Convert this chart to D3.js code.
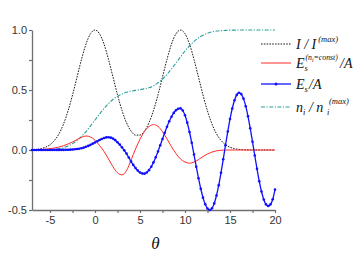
<!DOCTYPE html>
<html><head><meta charset="utf-8">
<script src="https://cdn.jsdelivr.net/npm/d3@7"></script>
<style>
html,body{margin:0;padding:0;background:#fff;}
svg{display:block;}
.tick text{font-family:"Liberation Sans",Arial,sans-serif;font-size:11px;fill:#333;}
</style></head>
<body>
<svg id="c" width="357" height="253"></svg>
<script>
// ---- data ----
const thetaCoarse = d3.range(-7, 20.001, 0.5);   // sample positions for I, n_i, E_s(const)
const thetaFine = d3.range(-7, 20.001, 0.25);    // sample positions for E_s/A

const intensity = [0.002,0.005,0.011,0.023,0.044,0.080,0.135,0.216,0.325,0.458,0.607,0.755,0.883,0.969,
  1.0,0.969,0.883,0.755,0.608,0.460,0.330,0.227,0.158,0.124,0.124,0.158,0.227,0.330,0.460,0.608,0.755,0.883,0.969,1.0,
  0.969,0.883,0.755,0.607,0.458,0.325,0.216,0.135,0.080,0.044,0.023,0.011,0.005,0.002,0.001,0,0,0,0,0,0];

const density = [0.000,0.000,0.001,0.002,0.003,0.006,0.011,0.020,0.033,0.053,0.079,0.113,0.154,0.201,
  0.250,0.299,0.346,0.387,0.421,0.447,0.467,0.481,0.490,0.497,0.503,0.510,0.519,0.533,0.560,0.590,0.630,0.675,0.725,0.775,
  0.825,0.868,0.905,0.935,0.957,0.973,0.984,0.991,0.995,0.997,0.999,0.999,1.0,1.0,1.0,1.0,1.0,1.0,1.0,1.0,1.0];

const fieldConst = [0.001,0.002,0.004,0.007,0.011,0.017,0.025,0.036,0.050,0.067,0.087,0.105,0.117,0.108,
  0.082,0.038,-0.012,-0.075,-0.140,-0.190,-0.207,-0.172,-0.085,0.008,0.090,0.155,0.195,0.212,0.197,0.152,0.092,0.027,-0.030,-0.075,
  -0.100,-0.110,-0.100,-0.080,-0.055,-0.033,-0.017,-0.007,-0.002,0,0,0,0,0,0,0,0,0,0,0,0];

const field = [0,0,0,0,0,0,0,0,0,0,
  0.001,0.001,0.001,0.001,0.001,0.002,0.002,0.003,0.004,0.006,
  0.008,0.011,0.015,0.020,0.027,0.034,0.043,0.053,
  0.063,0.073,0.083,0.092,0.100,0.105,0.106,0.103,0.095,0.082,
  0.065,0.045,0.022,-0.003,-0.030,-0.062,-0.095,-0.124,-0.150,-0.171,
  -0.188,-0.196,-0.197,-0.187,-0.168,-0.140,-0.103,-0.060,-0.012,0.039,
  0.092,0.144,0.194,0.239,0.277,0.309,0.331,0.344,0.347,0.329,
  0.289,0.228,0.150,0.060,-0.038,-0.139,-0.235,-0.323,-0.397,-0.453,
  -0.488,-0.500,-0.486,-0.445,-0.379,-0.293,-0.190,-0.077,0.040,0.154,
  0.258,0.346,0.415,0.459,0.477,0.466,0.428,0.365,0.281,0.181,
  0.069,-0.046,-0.157,-0.260,-0.346,-0.412,-0.453,-0.467,-0.453,-0.410,
  -0.330];

const xTicks = [-5,-2.5,0,2.5,5,7.5,10,12.5,15,17.5,20];
const xTickLabels = {"-5":"-5","0":"0","5":"5","10":"10","15":"15","20":"20"};
const yTicks = [-0.5,-0.25,0,0.25,0.5,0.75,1.0];
const yTickLabels = {"-0.5":"-0.5","0":"0.0","0.5":"0.5","1":"1.0"};

// ---- drawing ----
const svg = d3.select("#c");
const x = d3.scaleLinear().domain([-7,20]).range([32,275]);
const y = d3.scaleLinear().domain([-0.5,1.0]).range([210,30]);

const axisColor = "#6f6f6f";
const gx = svg.append("g").attr("transform","translate(0,210)")
  .call(d3.axisBottom(x).tickValues(xTicks).tickSize(3).tickSizeOuter(0)
    .tickFormat(d => xTickLabels[String(d)] || ""));
const gy = svg.append("g").attr("transform","translate(32,0)")
  .call(d3.axisLeft(y).tickValues(yTicks).tickSize(3).tickSizeOuter(0)
    .tickFormat(d => yTickLabels[String(d)] || ""));
[gx,gy].forEach(g=>{
  g.select(".domain").attr("stroke",axisColor).attr("stroke-width",1.3);
  g.selectAll(".tick line").attr("stroke",axisColor).attr("stroke-width",1.2);
});
gx.selectAll(".tick text").attr("dy","0.95em").attr("y",4);
gy.selectAll(".tick text").attr("x",-5);

const clipLine = (xs, ys) => d3.line().curve(d3.curveMonotoneX)
  .x((d,i)=>x(xs[i])).y(d=>y(d))(ys);

const cIntensity = "#1a1a1a", cConst = "#ff2a2a", cField = "#1010ff", cDensity = "#2a9f9c";

svg.append("path").attr("d", clipLine(thetaCoarse, intensity))
  .attr("fill","none").attr("stroke",cIntensity).attr("stroke-width",1).attr("stroke-dasharray","1.6,1.2");
svg.append("path").attr("d", clipLine(thetaCoarse, density))
  .attr("fill","none").attr("stroke",cDensity).attr("stroke-width",1.1).attr("stroke-dasharray","4,1.5,1.2,1.5");
svg.append("path").attr("d", clipLine(thetaCoarse, fieldConst))
  .attr("fill","none").attr("stroke",cConst).attr("stroke-width",1);
svg.append("path").attr("d", clipLine(thetaFine, field))
  .attr("fill","none").attr("stroke",cField).attr("stroke-width",1.3);
svg.append("g").selectAll("circle").data(field).join("circle")
  .attr("cx",(d,i)=>x(thetaFine[i])).attr("cy",d=>y(d)).attr("r",1.3).attr("fill",cField);

// axis title
svg.append("text").attr("x",155.5).attr("y",249).attr("text-anchor","middle")
  .attr("font-family","'Liberation Serif','Times New Roman',serif").attr("font-style","italic")
  .attr("font-size",17).attr("fill","#111").text("θ");

// ---- legend ----
const lg = svg.append("g").attr("font-family","'Liberation Serif','Times New Roman',serif")
  .attr("font-style","italic").attr("fill","#111");
const lx0 = 261, lx1 = 291, tx = 296;
const rows = [44, 63, 84, 107];
lg.append("line").attr("x1",lx0).attr("x2",lx1).attr("y1",rows[0]).attr("y2",rows[0])
  .attr("stroke",cIntensity).attr("stroke-dasharray","1.6,1.2");
lg.append("line").attr("x1",lx0).attr("x2",lx1).attr("y1",rows[1]).attr("y2",rows[1])
  .attr("stroke",cConst);
lg.append("line").attr("x1",lx0).attr("x2",lx1).attr("y1",rows[2]).attr("y2",rows[2])
  .attr("stroke",cField).attr("stroke-width",1.3);
lg.append("circle").attr("cx",(lx0+lx1)/2).attr("cy",rows[2]).attr("r",1.5).attr("fill",cField);
lg.append("line").attr("x1",lx0).attr("x2",lx1).attr("y1",rows[3]).attr("y2",rows[3])
  .attr("stroke",cDensity).attr("stroke-width",1.1).attr("stroke-dasharray","4,1.5,1.2,1.5");

// row 1: I / I^(max)
let b = rows[0]+4.5;
let t = lg.append("text").attr("x",tx).attr("y",b).attr("font-size",14);
t.append("tspan").text("I / I");
t.append("tspan").attr("dx",2).attr("dy",-7).attr("font-size",8.5).text("(max)");

// row 2: E_s^(n_i=const)/A
b = rows[1]+4.5;
lg.append("text").attr("x",tx).attr("y",b).attr("font-size",14).text("E");
lg.append("text").attr("x",tx+8.5).attr("y",b+3).attr("font-size",8.5).text("s");
t = lg.append("text").attr("x",tx+9.5).attr("y",b-8).attr("font-size",7.8);
t.append("tspan").text("(n");
t.append("tspan").attr("dy",2).attr("font-size",5.5).text("i");
t.append("tspan").attr("dy",-2).text("=const)");
lg.append("text").attr("x",tx+44).attr("y",b).attr("font-size",14).text("/A");

// row 3: E_s/A
b = rows[2]+4.5;
lg.append("text").attr("x",tx).attr("y",b).attr("font-size",14).text("E");
lg.append("text").attr("x",tx+8.5).attr("y",b+3).attr("font-size",8.5).text("s");
lg.append("text").attr("x",tx+13).attr("y",b).attr("font-size",14).text("/A");

// row 4: n_i / n_i^(max)
b = rows[3]+4.5;
t = lg.append("text").attr("x",tx).attr("y",b).attr("font-size",14);
t.append("tspan").text("n");
t.append("tspan").attr("dy",3).attr("font-size",8.5).text("i");
t.append("tspan").attr("dy",-3).text(" / n");
lg.append("text").attr("x",tx+31).attr("y",b+3).attr("font-size",8.5).text("i");
lg.append("text").attr("x",tx+33).attr("y",b-8).attr("font-size",8.5).text("(max)");
</script>
</body></html>
